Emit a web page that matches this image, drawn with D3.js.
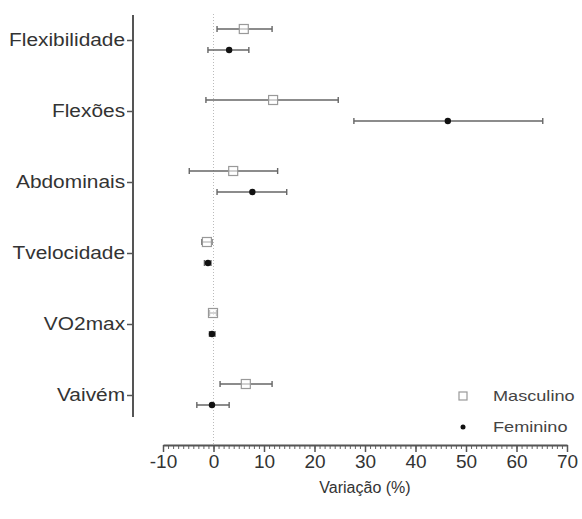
<!DOCTYPE html>
<html>
<head>
<meta charset="utf-8">
<script src="https://cdn.jsdelivr.net/npm/d3@7"></script>
<style>
  body { margin: 0; background: #fff; }
  svg { display: block; font-family: "Liberation Sans", Arial, sans-serif; }
</style>
</head>
<body>
<svg id="chart" width="582" height="519"></svg>
<script>
// categories (top to bottom)
const categories = ['Flexibilidade', 'Flexões', 'Abdominais', 'Tvelocidade', 'VO2max', 'Vaivém'];
const series = ['Masculino', 'Feminino'];

// mean, lower, upper variation (%)
const masculinoMean = [6.0, 11.8, 3.9, -1.3, -0.1, 6.4];
const masculinoLow = [0.7, -1.5, -4.8, -2.3, -0.8, 1.3];
const masculinoHigh = [11.6, 24.7, 12.7, -0.3, 0.6, 11.6];

const femininoMean = [3.1, 46.4, 7.7, -1.1, -0.3, -0.3];
const femininoLow = [-1.1, 27.8, 0.7, -1.8, -0.8, -3.3];
const femininoHigh = [7.0, 65.2, 14.5, -0.5, 0.3, 3.1];

const xTicks = [-10, 0, 10, 20, 30, 40, 50, 60, 70];

const rows = [];
categories.forEach((c, i) => {
  rows.push({ cat: c, s: 'Masculino', mean: masculinoMean[i], lo: masculinoLow[i], hi: masculinoHigh[i] });
  rows.push({ cat: c, s: 'Feminino', mean: femininoMean[i], lo: femininoLow[i], hi: femininoHigh[i] });
});

const svg = d3.select('#chart');

const x = d3.scaleLinear().domain([-10, 70]).range([163, 567]);
const y = d3.scalePoint().domain(categories).range([40, 395]);
const offset = d3.scalePoint().domain(series).range([-11, 10]);

const axisColor = '#555';

// dotted reference line at zero
svg.append('line')
  .attr('x1', x(0)).attr('x2', x(0))
  .attr('y1', 14).attr('y2', 446)
  .attr('stroke', '#bbb')
  .attr('stroke-width', 1)
  .attr('stroke-dasharray', '1,2');

// y axis
const yAxis = svg.append('g')
  .attr('transform', 'translate(133,0)')
  .call(d3.axisLeft(y).tickSize(6).tickPadding(1));
yAxis.select('.domain').remove();
yAxis.append('line')
  .attr('x1', 0).attr('x2', 0)
  .attr('y1', 15).attr('y2', 417)
  .attr('stroke', axisColor)
  .attr('stroke-width', 2);
yAxis.selectAll('.tick line').attr('stroke', axisColor).attr('stroke-width', 1.5);
yAxis.selectAll('.tick text')
  .attr('font-size', 18.5)
  .attr('fill', '#333')
  .attr('transform', 'scale(1.13,1)');

// x axis: minor ticks every 1
const xMinor = svg.append('g')
  .attr('transform', 'translate(0,445)')
  .call(d3.axisBottom(x).ticks(80).tickSize(4).tickFormat(''));
xMinor.selectAll('.tick line').attr('stroke', '#666').attr('stroke-width', 1);
xMinor.select('.domain').remove();

const xAxis = svg.append('g')
  .attr('transform', 'translate(0,445)')
  .call(d3.axisBottom(x).tickValues(xTicks).tickSize(7).tickSizeOuter(0).tickPadding(3)
    .tickFormat(d => String(d)));
xAxis.select('.domain').attr('stroke', axisColor).attr('stroke-width', 2);
xAxis.selectAll('.tick line').attr('stroke', axisColor).attr('stroke-width', 1.5);
xAxis.selectAll('.tick text')
  .attr('font-size', 19)
  .attr('fill', '#333');

svg.append('text')
  .attr('x', x(30)).attr('y', 493)
  .attr('text-anchor', 'middle')
  .attr('font-size', 16)
  .attr('fill', '#333')
  .text('Variação (%)');

// error bars
const cy = d => y(d.cat) + offset(d.s);
const bars = svg.append('g');
bars.selectAll('.bar')
  .data(rows).enter().append('line')
  .attr('x1', d => x(d.lo)).attr('x2', d => x(d.hi))
  .attr('y1', cy).attr('y2', cy)
  .attr('stroke', '#666')
  .attr('stroke-width', 1.4);
['lo', 'hi'].forEach(k => {
  bars.selectAll('.cap-' + k)
    .data(rows).enter().append('line')
    .attr('x1', d => x(d[k])).attr('x2', d => x(d[k]))
    .attr('y1', d => cy(d) - 3).attr('y2', d => cy(d) + 3)
    .attr('stroke', '#666')
    .attr('stroke-width', 1.4);
});

// markers
svg.selectAll('.masc')
  .data(rows.filter(d => d.s === 'Masculino')).enter().append('rect')
  .attr('x', d => x(d.mean) - 4.5)
  .attr('y', d => cy(d) - 4.5)
  .attr('width', 9).attr('height', 9)
  .attr('fill', 'white')
  .attr('fill-opacity', 0.6)
  .attr('stroke', '#999')
  .attr('stroke-width', 1.2);
svg.selectAll('.fem')
  .data(rows.filter(d => d.s === 'Feminino')).enter().append('circle')
  .attr('cx', d => x(d.mean))
  .attr('cy', cy)
  .attr('r', 3.2)
  .attr('fill', '#111');

// legend
const legend = svg.append('g').attr('transform', 'translate(463,396)');
const li = legend.selectAll('g').data(series).enter().append('g')
  .attr('transform', (d, i) => `translate(0,${i * 31})`);
li.filter(d => d === 'Masculino').append('rect')
  .attr('x', -4).attr('y', -4).attr('width', 8).attr('height', 8)
  .attr('fill', 'white').attr('stroke', '#999').attr('stroke-width', 1.2);
li.filter(d => d === 'Feminino').append('circle')
  .attr('r', 2.5).attr('fill', '#111');
li.append('text')
  .attr('x', 30).attr('y', 0)
  .attr('dy', '0.35em')
  .attr('font-size', 14.5)
  .attr('fill', '#444')
  .attr('transform', 'translate(30,0) scale(1.25,1) translate(-30,0)')
  .text(d => d);
</script>
</body>
</html>
